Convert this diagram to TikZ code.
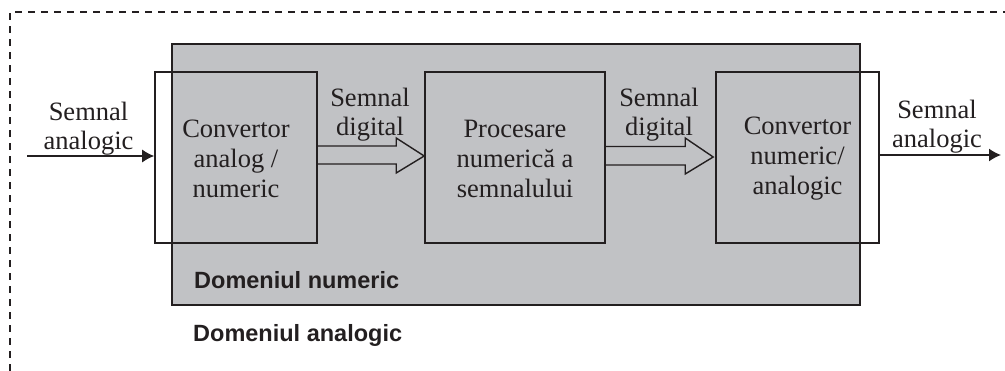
\documentclass[tikz,border=0pt]{standalone}
\usepackage{fontspec}
\setmainfont{Liberation Serif}
\newfontfamily\labelsans{Liberation Sans}
\usetikzlibrary{arrows.meta,calc}
\definecolor{ink}{HTML}{231F20}
\definecolor{domgray}{HTML}{C1C2C5}
\tikzset{
  blockbox/.style={draw=ink, line width=1.6pt, minimum height=171pt, inner sep=0pt},
  blocktext/.style={text=ink, align=center, font=\fontsize{26.5}{30}\selectfont, inner sep=0pt},
  sigtext/.style={text=ink, align=center, font=\fontsize{26.5}{29}\selectfont, inner sep=0pt, anchor=base},
  domtext/.style={text=ink, font=\labelsans\bfseries\fontsize{23.5}{27}\selectfont, inner sep=0pt, anchor=base west},
  hollow/.style={draw=ink, line width=1.4pt, line join=miter},
  signal/.style={draw=ink, line width=1.3pt, -{Latex[length=12pt,width=13pt]}},
  frame/.style={draw=ink, line width=1.8pt, dash pattern=on 7pt off 6pt}
}
\begin{document}
\begin{tikzpicture}[x=1pt,y=-1pt]
\useasboundingbox (0,0) rectangle (1005,371);

% analog domain border (open towards right and bottom)
\draw[frame] (10,371) -- (10,12) -- (1005,12);

% digital domain
\node[draw=ink, fill=domgray, line width=2.2pt, minimum width=688pt, minimum height=261pt, inner sep=0pt] (dn) at (516,174.5) {};

% processing blocks
\node[blockbox, minimum width=162pt] (b1) at (236,157.5) {};
\node[blockbox, minimum width=180pt] (b2) at (515,157.5) {};
\node[blockbox, minimum width=163pt] (b3) at (797.5,157.5) {};

\node[blocktext] (t1) at (236,158.5) {Convertor\\analog /\\numeric};
\node[blocktext] (t2) at (515,158.5) {Procesare\\numerică a\\semnalului};
\node[blocktext] (t3) at (797.5,158.5) {Convertor\\numeric/\\analogic};

% hollow arrows for the digital signal
\draw[hollow] ($(b1.east)+(0,-11.5)$) -- ($(b2.west)+(-28,-11.5)$) -- ($(b2.west)+(-28,-19.5)$)
  -- ($(b2.west)+(0,-1.5)$) -- ($(b2.west)+(-28,15.5)$) -- ($(b2.west)+(-28,6.5)$) -- ($(b1.east)+(0,6.5)$);
\draw[hollow] ($(b2.east)+(0,-11)$) -- ($(b3.west)+(-30,-11)$) -- ($(b3.west)+(-30,-19.5)$)
  -- ($(b3.west)+(-2,-0.5)$) -- ($(b3.west)+(-30,16.5)$) -- ($(b3.west)+(-30,7.5)$) -- ($(b2.east)+(0,7.5)$);

% analog input and output
\coordinate (in) at (27,156);
\coordinate (out) at (1001,155);
\draw[signal] (in) -- (in -| b1.west);
\draw[signal] (out -| b3.east) -- (out);

% signal labels (anchored on the baseline of the second line)
\node[sigtext] (l1) at (88.5,150) {Semnal\\analogic};
\node[sigtext] (l2) at (370,136) {Semnal\\digital};
\node[sigtext] (l3) at (659,136) {Semnal\\digital};
\node[sigtext] (l4) at (937,148) {Semnal\\analogic};

% domain names
\node[domtext] (dnum) at (194,289) {Domeniul numeric};
\node[domtext] (dan) at (193,342) {Domeniul analogic};
\end{tikzpicture}
\end{document}
